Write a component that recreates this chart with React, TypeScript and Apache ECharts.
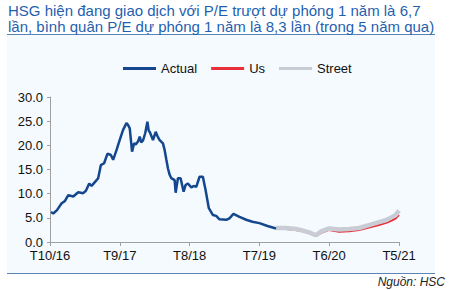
import React, { useEffect, useRef } from "react";
import * as echarts from "echarts";

// month offsets from Oct 2016 and P/E values
const actualMonths = [0.16, 0.52, 1.1, 1.84, 2.36, 2.88, 3.66, 4.45, 5.23, 5.66, 6.18, 6.55, 7.07, 7.59, 8.01, 8.53, 9.06, 9.59, 9.95, 10.48, 10.84, 11.16, 11.52, 12.05, 12.26, 12.57, 12.93, 13.25, 13.51, 13.87, 14.14, 14.38, 14.66, 15.0, 15.35, 15.56, 15.71, 16.23, 16.66, 16.97, 17.28, 17.8, 18.07, 18.34, 18.59, 18.86, 19.12, 19.64, 19.8, 20.16, 20.58, 21.06, 21.37, 21.73, 22.27, 22.63, 23.05, 23.57, 24.09, 24.51, 25.03, 25.66, 26.19, 26.71, 27.77, 28.28, 28.91, 29.86, 30.91, 31.9, 33.0, 34.28, 35.62];
const actualValues = [6.2, 5.9, 6.6, 8.0, 8.5, 9.7, 9.4, 10.3, 10.1, 10.6, 12.1, 11.6, 12.4, 13.2, 15.9, 16.3, 18.3, 18.0, 17.0, 19.0, 20.5, 21.8, 23.2, 24.6, 24.3, 23.5, 18.7, 20.4, 20.2, 20.8, 21.8, 20.6, 21.0, 22.5, 24.9, 23.0, 22.8, 21.1, 22.8, 21.8, 21.1, 20.4, 19.0, 17.0, 15.2, 13.9, 13.2, 12.8, 10.2, 13.2, 13.2, 10.4, 11.8, 12.1, 11.3, 11.6, 11.4, 13.5, 13.5, 10.8, 7.0, 5.6, 5.4, 4.7, 4.6, 4.9, 5.8, 5.2, 4.6, 4.2, 3.9, 3.3, 2.8];

const forecastMonths = [35.62, 37.2, 38.76, 39.75, 40.85, 41.91, 42.74, 44.0, 45.57, 47.14, 48.71, 50.28, 51.85, 53.11, 53.94, 54.5, 55.0];
const usValues = [2.8, 2.7, 2.5, 2.2, 1.8, 1.2, 1.9, 2.5, 2.1, 2.2, 2.5, 3.0, 3.5, 4.0, 4.5, 4.9, 5.6];
const streetValues = [2.9, 2.9, 2.7, 2.4, 2.0, 1.4, 2.2, 2.8, 2.6, 2.7, 2.9, 3.5, 4.1, 4.6, 5.2, 5.6, 6.5];

const xTickLabels = ["T10/16", "T9/17", "T8/18", "T7/19", "T6/20", "T5/21"];
const yTickLabels = ["0.0", "5.0", "10.0", "15.0", "20.0", "25.0", "30.0"];

const titleText =
  "HSG hiện đang giao dịch với P/E trượt dự phóng 1 năm là 6,7\nlần, bình quân P/E dự phóng 1 năm là 8,3 lần (trong 5 năm qua)";
const sourceText = "Nguồn: HSC";

const zip = (xs: number[], ys: number[]) => xs.map((x, i) => [x, ys[i]]);

export default function App() {
  const ref = useRef<HTMLDivElement>(null);
  useEffect(() => {
    document.body.style.margin = "0";
    const chart = echarts.init(ref.current!, null, { renderer: "svg" });
    const font = "'Liberation Sans', Arial, sans-serif";
    chart.setOption({
      animation: false,
      backgroundColor: "#ffffff",
      textStyle: { fontFamily: font },
      graphic: [
        {
          type: "rect",
          shape: { x: 7, y: 34, width: 428, height: 239 },
          style: { fill: "#f4fafd" },
          z: -10,
          silent: true,
        },
        {
          type: "line",
          shape: { x1: 7, y1: 34.5, x2: 435, y2: 34.5 },
          style: { stroke: "#5b83b8", lineWidth: 1 },
          silent: true,
        },
        {
          type: "line",
          shape: { x1: 7, y1: 273.5, x2: 435, y2: 273.5 },
          style: { stroke: "#5b83b8", lineWidth: 1 },
          silent: true,
        },
        {
          type: "text",
          x: 8,
          y: 2,
          style: {
            text: titleText,
            fill: "#1f5fb0",
            font: `15px ${font}`,
            lineHeight: 16,
          },
          silent: true,
        },
        {
          type: "text",
          right: 4,
          top: 276,
          style: {
            text: sourceText,
            fill: "#222",
            font: `italic 12px ${font}`,
          },
          silent: true,
        },
      ],
      legend: {
        left: 118,
        top: 57,
        icon: "rect",
        itemWidth: 33,
        itemHeight: 3,
        itemGap: 14,
        textStyle: { fontSize: 13, color: "#111", fontFamily: font },
        data: ["Actual", "Us", "Street"],
      },
      grid: { left: 50, right: 50, top: 97, bottom: 48 },
      xAxis: {
        type: "value",
        min: 0,
        max: 55,
        interval: 11,
        axisLine: { lineStyle: { color: "#a0a0a0" } },
        axisTick: { show: true, length: 4, lineStyle: { color: "#a0a0a0" } },
        splitLine: { show: false },
        axisLabel: {
          color: "#111",
          fontSize: 13,
          lineHeight: 13,
          margin: 7,
          fontFamily: font,
          formatter: (v: number) => xTickLabels[Math.round(v / 11)] ?? "",
        },
      },
      yAxis: {
        type: "value",
        min: 0,
        max: 30,
        interval: 5,
        axisLine: { show: true, lineStyle: { color: "#a0a0a0" } },
        axisTick: { show: true, length: 3, lineStyle: { color: "#a0a0a0" } },
        splitLine: { show: false },
        axisLabel: {
          color: "#111",
          fontSize: 13,
          lineHeight: 13,
          margin: 7,
          fontFamily: font,
          formatter: (v: number) => yTickLabels[Math.round(v / 5)] ?? "",
        },
      },
      series: [
        {
          name: "Actual",
          type: "line",
          data: zip(actualMonths, actualValues),
          showSymbol: false,
          itemStyle: { color: "#14478e" },
          lineStyle: { color: "#14478e", width: 2.5 },
          z: 3,
        },
        {
          name: "Us",
          type: "line",
          data: zip(forecastMonths, usValues),
          showSymbol: false,
          itemStyle: { color: "#e8303a" },
          lineStyle: { color: "#e8303a", width: 2 },
          z: 2,
        },
        {
          name: "Street",
          type: "line",
          data: zip(forecastMonths, streetValues),
          showSymbol: false,
          itemStyle: { color: "#c9ccd4" },
          lineStyle: { color: "#c9ccd4", width: 4.5 },
          z: 2,
        },
      ],
    });
    return () => chart.dispose();
  }, []);
  return <div ref={ref} style={{ width: 449, height: 290 }} />;
}
